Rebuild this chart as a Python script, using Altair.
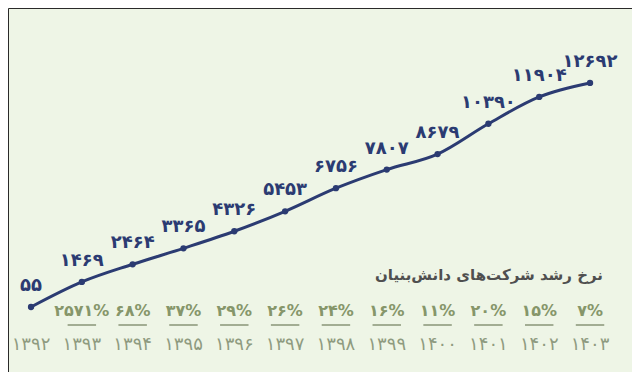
import altair as alt
import pandas as pd

years = [1392, 1393, 1394, 1395, 1396, 1397, 1398, 1399, 1400, 1401, 1402, 1403]
year_labels = ["۱۳۹۲", "۱۳۹۳", "۱۳۹۴", "۱۳۹۵", "۱۳۹۶", "۱۳۹۷",
               "۱۳۹۸", "۱۳۹۹", "۱۴۰۰", "۱۴۰۱", "۱۴۰۲", "۱۴۰۳"]
values = [55, 1469, 2464, 3365, 4326, 5453, 6756, 7807, 8679, 10390, 11904, 12692]
value_labels = ["۵۵", "۱۴۶۹", "۲۴۶۴", "۳۳۶۵", "۴۳۲۶", "۵۴۵۳",
                "۶۷۵۶", "۷۸۰۷", "۸۶۷۹", "۱۰۳۹۰", "۱۱۹۰۴", "۱۲۶۹۲"]
growth_labels = ["", "۲۵۷۱%", "۶۸%", "۳۷%", "۲۹%", "۲۶%",
                 "۲۴%", "۱۶%", "۱۱%", "۲۰%", "۱۵%", "۷%"]
title_text = "نرخ رشد شرکت‌های دانش‌بنیان"

df = pd.DataFrame({
    "year": years,
    "year_label": year_labels,
    "value": values,
    "value_label": value_labels,
    "growth": growth_labels,
})

FONT = "DejaVu Sans"
NAVY = "#2b3b72"

xs = alt.Scale(domain=[1391.547, 1403.826], nice=False, zero=False)
ys = alt.Scale(domain=[-3611, 16919], nice=False, zero=False)
X = alt.X("year:Q", scale=xs, axis=None)
Y = alt.Y("value:Q", scale=ys, axis=None)

base = alt.Chart(df)

line = base.mark_line(color=NAVY, strokeWidth=3, interpolate="monotone").encode(x=X, y=Y)
pts = base.mark_circle(color=NAVY, size=40, opacity=1).encode(x=X, y=Y)
vals = base.mark_text(color=NAVY, font=FONT, fontSize=18, fontWeight="bold",
                      dy=-21, baseline="middle").encode(x=X, y=Y, text="value_label:N")

growth_df = df[df["growth"] != ""]
gbase = alt.Chart(growth_df)
gtext = gbase.mark_text(color="#86966a", font=FONT, fontSize=16, fontWeight="bold",
                        baseline="middle").encode(x=X, y=alt.value(303), text="growth:N")
under = gbase.mark_rule(color="#6f7d5c", strokeWidth=1.2).transform_calculate(
    x1="datum.year - 0.28", x2="datum.year + 0.28"
).encode(x=alt.X("x1:Q", scale=xs, axis=None), x2="x2:Q", y=alt.value(317))

ytext = base.mark_text(color="#8f9b80", font=FONT, fontSize=18,
                       baseline="middle").encode(x=X, y=alt.value(337), text="year_label:N")

title = alt.Chart(pd.DataFrame({"t": [title_text]})).mark_text(
    color="#4f4f4f", font=FONT, fontSize=15, fontWeight="bold", align="right", baseline="middle"
).encode(x=alt.value(595), y=alt.value(267), text="t:N")

chart = alt.layer(line, pts, vals, gtext, under, ytext, title).properties(
    width=624, height=364, padding=0, autosize=alt.AutoSizeParams(type="none"),
    background="#eef5e6"
).configure_view(stroke="#2a2a2a", strokeWidth=1)

chart.save("out.html", embed_options={"renderer": "svg", "actions": False})
